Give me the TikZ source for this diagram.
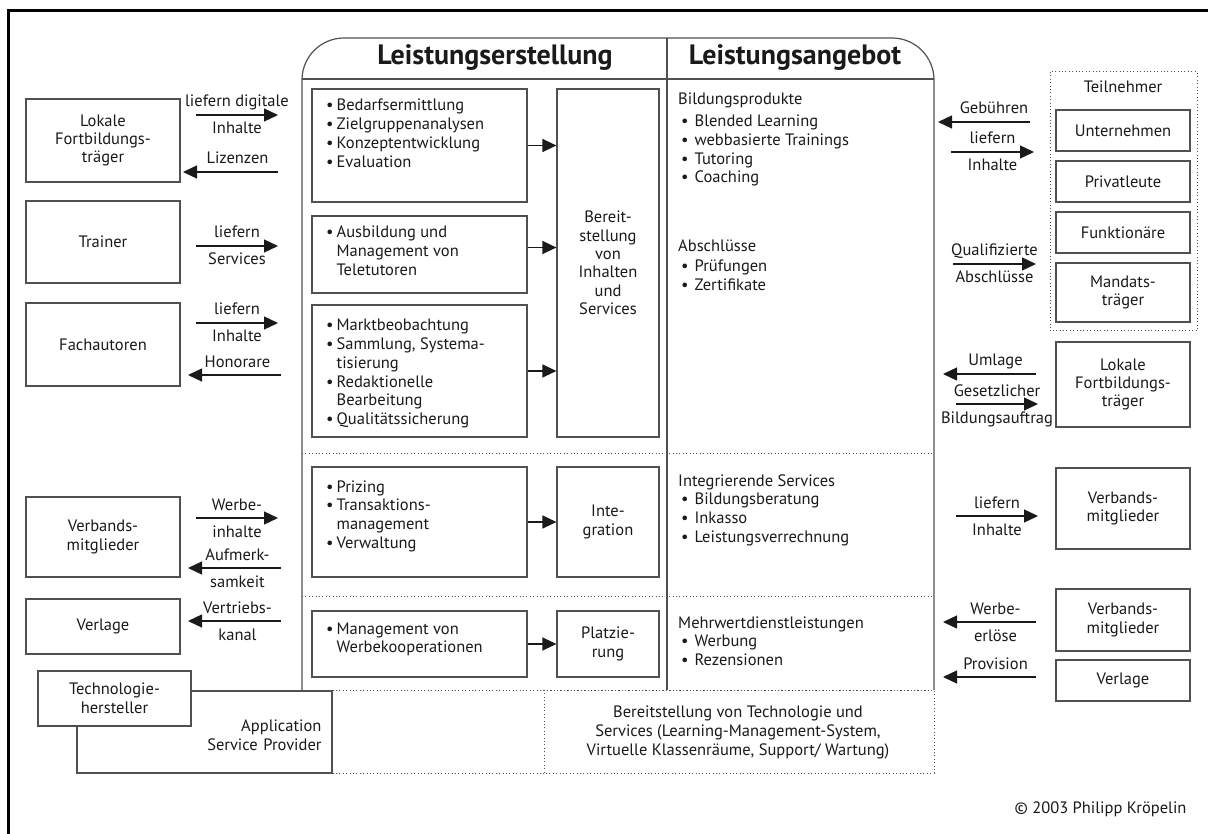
\documentclass[tikz,border=0pt]{standalone}
\usepackage{fontspec}
\setmainfont{PT Sans}
\usetikzlibrary{arrows.meta}

\definecolor{boxgray}{HTML}{505050}
\definecolor{ink}{HTML}{1A1A1A}

\tikzset{
  box/.style={draw=boxgray, line width=1.2pt, fill=white, inner sep=0pt, align=center},
  flow/.style={line width=1.3pt, ink, -{Triangle[length=14pt,width=13pt]}},
  lblup/.style={anchor=base, yshift=8pt, inner sep=0pt},
  lbldn/.style={anchor=base, yshift=-19pt, inner sep=0pt},
  dots/.style={boxgray, line width=1pt, dash pattern=on 1pt off 2.4pt},
  blist/.style={anchor=base west, inner sep=0pt, align=left},
}

\begin{document}
\begin{tikzpicture}[x=1pt, y=-1pt, text=ink,
    font=\fontsize{16.5}{18.7}\selectfont]
  \useasboundingbox[fill=white] (0,0) rectangle (1208,834);
  \draw[line width=3pt, black] (8,834) -- (8,11) -- (1208,11);

  % Leistungserstellung / Leistungsangebot
  \draw[boxgray, line width=1.2pt, rounded corners=42pt]
    (302,690) -- (302,38) -- (934,38) -- (934,690);
  \draw[boxgray, line width=1.2pt] (302,79) -- (934,79);
  \draw[boxgray, line width=1.2pt] (667,38) -- (667,690);
  \node[font=\bfseries\fontsize{28}{32}\selectfont] (erst) at (495,58) {Leistungserstellung};
  \node[font=\bfseries\fontsize{28}{32}\selectfont] (angeb) at (795,58) {Leistungsangebot};
  \draw[dots] (302,453) -- (934,453);
  \draw[dots] (302,596) -- (934,596);
  \draw[dots] (302,690) -- (934,690);
  \draw[dots] (302,773) -- (544,773);
  \draw[dots] (544,690) rectangle (934,773);
  \node[align=center, font=\fontsize{16.5}{19}\selectfont] (techserv) at (738,732)
    {Bereitstellung von Technologie und\\Services (Learning-Management-System,\\Virtuelle Klassenräume, Support/ Wartung)};

  % innere Kaesten
  \node[box, minimum width=215pt, minimum height=113pt] (bedarf) at (419.5,145.5) {};
  \node[box, minimum width=215pt, minimum height=77pt] (ausb) at (419.5,254.5) {};
  \node[box, minimum width=215pt, minimum height=132pt] (markt) at (419.5,371) {};
  \node[box, minimum width=215pt, minimum height=110pt] (prizing) at (419.5,522) {};
  \node[box, minimum width=215pt, minimum height=66pt] (werbko) at (419.5,644) {};
  \node[box, minimum width=102pt, minimum height=348pt, font=\fontsize{16.5}{18.3}\selectfont]
    (bereit) at (608,263) {Bereit-\\stellung\\von\\Inhalten\\und\\Services};
  \node[box, minimum width=102pt, minimum height=110pt] (integ) at (608,522) {Inte-\\gration};
  \node[box, minimum width=102pt, minimum height=66pt] (platz) at (608,644) {Platzie-\\rung};

  \node[blist] (bedarfT) at (326,111) {\begin{tabular}[t]{@{}l@{\hspace{3pt}}l@{}}
    \textbullet & Bedarfsermittlung\\ \textbullet & Zielgruppenanalysen\\
    \textbullet & Konzeptentwicklung\\ \textbullet & Evaluation\end{tabular}};
  \node[blist] (ausbT) at (326,238) {\begin{tabular}[t]{@{}l@{\hspace{3pt}}l@{}}
    \textbullet & Ausbildung und\\ & Management von\\ & Teletutoren\end{tabular}};
  \node[blist] (marktT) at (326,331) {\begin{tabular}[t]{@{}l@{\hspace{3pt}}l@{}}
    \textbullet & Marktbeobachtung\\ \textbullet & Sammlung, Systema-\\ & tisierung\\
    \textbullet & Redaktionelle\\ & Bearbeitung\\ \textbullet & Qualitätssicherung\end{tabular}};
  \node[blist] (prizingT) at (326,492) {\begin{tabular}[t]{@{}l@{\hspace{3pt}}l@{}}
    \textbullet & Prizing\\ \textbullet & Transaktions-\\ & management\\
    \textbullet & Verwaltung\end{tabular}};
  \node[blist] (werbkoT) at (326,634) {\begin{tabular}[t]{@{}l@{\hspace{3pt}}l@{}}
    \textbullet & Management von\\ & Werbekooperationen\end{tabular}};

  \draw[flow] (bedarf.east) -- (bedarf.east -| bereit.west);
  \draw[flow] ([yshift=7pt]ausb.east) -- ([yshift=7pt]ausb.east -| bereit.west);
  \draw[flow] (markt.east) -- (markt.east -| bereit.west);
  \draw[flow] (prizing) -- (integ);
  \draw[flow] (werbko) -- (platz);

  % Leistungsangebot
  \node[blist] (bildT) at (678,105) {\begin{tabular}[t]{@{\hspace{3pt}}l@{\hspace{6pt}}l@{}}
    \multicolumn{2}{@{}l@{}}{Bildungsprodukte}\\[3pt]
    \textbullet & Blended Learning\\ \textbullet & webbasierte Trainings\\
    \textbullet & Tutoring\\ \textbullet & Coaching\end{tabular}};
  \node[blist] (abschlT) at (678,252) {\begin{tabular}[t]{@{\hspace{3pt}}l@{\hspace{6pt}}l@{}}
    \multicolumn{2}{@{}l@{}}{Abschlüsse}\\[1pt]
    \textbullet & Prüfungen\\ \textbullet & Zertifikate\end{tabular}};
  \node[blist] (integT) at (678,486) {\begin{tabular}[t]{@{\hspace{3pt}}l@{\hspace{6pt}}l@{}}
    \multicolumn{2}{@{}l@{}}{Integrierende Services}\\
    \textbullet & Bildungsberatung\\ \textbullet & Inkasso\\
    \textbullet & Leistungsverrechnung\end{tabular}};
  \node[blist] (mehrT) at (678,628) {\begin{tabular}[t]{@{\hspace{3pt}}l@{\hspace{6pt}}l@{}}
    \multicolumn{2}{@{}l@{}}{Mehrwertdienstleistungen}\\
    \textbullet & Werbung\\ \textbullet & Rezensionen\end{tabular}};

  % linke Seite
  \node[box, minimum width=154pt, minimum height=83pt, font=\fontsize{16.5}{18}\selectfont]
    (lokL) at (103,140.5) {Lokale\\Fortbildungs-\\träger};
  \node[box, minimum width=154pt, minimum height=82pt] (trainer) at (103,242) {Trainer};
  \node[box, minimum width=154pt, minimum height=83pt] (fach) at (103,344.5) {Fachautoren};
  \node[box, minimum width=154pt, minimum height=80pt] (verbL) at (103,537) {Verbands-\\mitglieder};
  \node[box, minimum width=154pt, minimum height=55pt] (verlL) at (103,626.5) {Verlage};
  \node[box, minimum width=255pt, minimum height=82pt, align=right, text width=234pt]
    (asp) at (204.5,732) {\\Application\\Service Provider};
  \node[box, minimum width=153pt, minimum height=55pt] (tech) at (114.5,698.5) {Technologie-\\hersteller};

  \draw[flow] (196,115) -- node[lblup]{liefern digitale} node[lbldn]{Inhalte} (278,115);
  \draw[flow] (278,172) -- node[lblup, xshift=7pt]{Lizenzen} (183,172);
  \draw[flow] (196,246) -- node[lblup]{liefern} node[lbldn]{Services} (278,246);
  \draw[flow] (196,323) -- node[lblup]{liefern} node[lbldn]{Inhalte} (278,323);
  \draw[flow] (281,375) -- node[lblup, xshift=3pt]{Honorare} (188,375);
  \draw[flow] (196,518) -- node[lblup]{Werbe-} node[lbldn]{inhalte} (278,518);
  \draw[flow] (281,568) -- node[lblup, xshift=3pt]{Aufmerk-} node[lbldn, xshift=3pt]{samkeit} (188,568);
  \draw[flow] (281,621) -- node[lblup, xshift=3pt]{Vertriebs-} node[lbldn, xshift=3pt]{kanal} (188,621);

  % rechte Seite
  \draw[dots] (1050,72) rectangle (1197,331);
  \node[anchor=base] (teiln) at (1123,93) {Teilnehmer};
  \node[box, minimum width=134pt, minimum height=41pt] (untern) at (1123,130.5) {Unternehmen};
  \node[box, minimum width=134pt, minimum height=41pt] (privat) at (1123,181.5) {Privatleute};
  \node[box, minimum width=134pt, minimum height=41pt] (funkt) at (1123,232.5) {Funktionäre};
  \node[box, minimum width=134pt, minimum height=59pt] (mandat) at (1123,292.5) {Mandats-\\träger};
  \node[box, minimum width=134pt, minimum height=85pt, font=\fontsize{16.5}{18}\selectfont]
    (lokR) at (1123,384.5) {Lokale\\Fortbildungs-\\träger};
  \node[box, minimum width=134pt, minimum height=81pt] (verbR) at (1123,508.5) {Verbands-\\mitglieder};
  \node[box, minimum width=134pt, minimum height=62pt] (verbW) at (1123,620) {Verbands-\\mitglieder};
  \node[box, minimum width=134pt, minimum height=41pt] (verlR) at (1123,680.5) {Verlage};

  \draw[flow] (1030,122) -- node[lblup, xshift=10pt]{Gebühren} (938,122);
  \draw[flow] (951,152) -- node[lblup]{liefern} node[lbldn]{Inhalte} (1034,152);
  \draw[flow] (953,264) -- node[lblup]{Qualifizierte} node[lbldn]{Abschlüsse} (1036,264);
  \draw[flow] (1036,374) -- node[lblup, xshift=6pt]{Umlage} (943,374);
  \draw[flow] (956,404) -- node[lblup]{Gesetzlicher} node[lbldn]{Bildungsauftrag} (1038,404);
  \draw[flow] (956,516) -- node[lblup]{liefern} node[lbldn]{Inhalte} (1038,516);
  \draw[flow] (1036,622) -- node[lblup, xshift=6pt]{Werbe-} node[lbldn, xshift=6pt]{erlöse} (943,622);
  \draw[flow] (1036,677) -- node[lblup, xshift=6pt]{Provision} (943,677);

  \node[anchor=base east] (copy) at (1190,813) {© 2003 Philipp Kröpelin};
\end{tikzpicture}
\end{document}
